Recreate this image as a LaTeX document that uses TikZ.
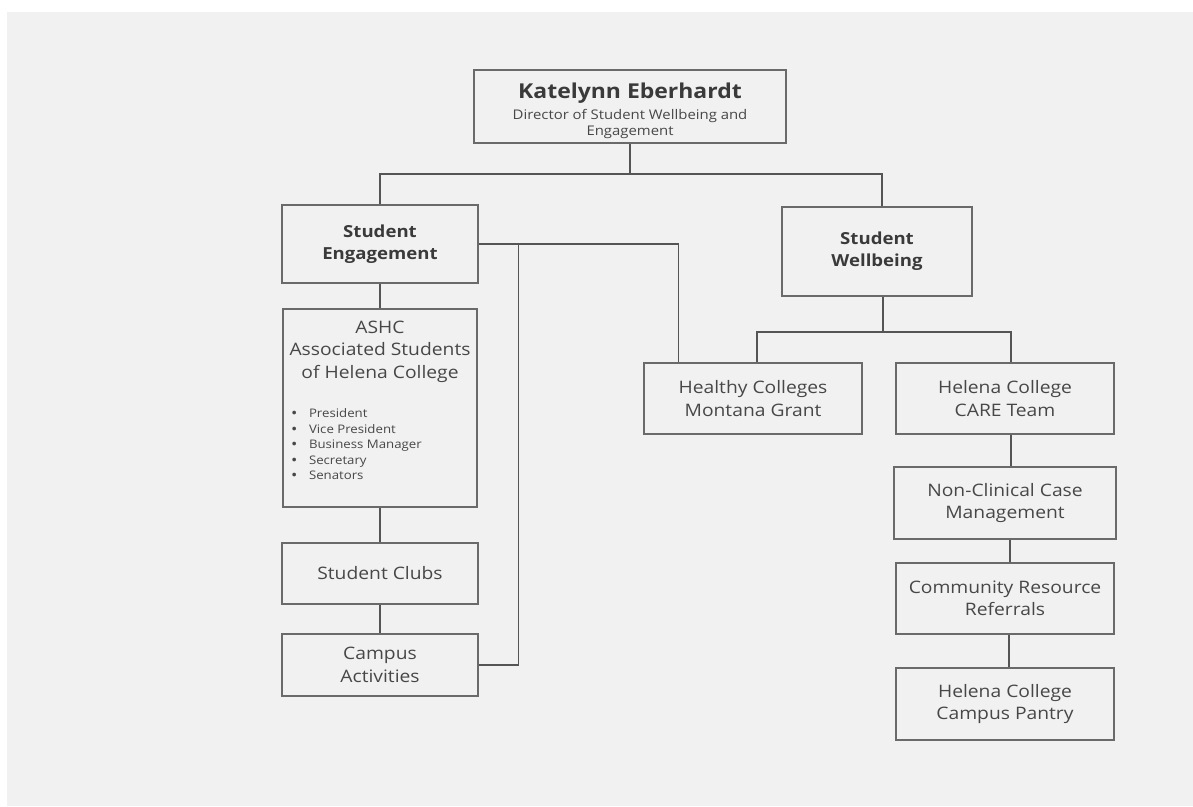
\documentclass[tikz,border=0pt]{standalone}
\usepackage{fontspec}
\setmainfont{Open Sans}[FakeStretch=1.12]
\usetikzlibrary{calc}
\definecolor{bg}{HTML}{F1F1F1}
\definecolor{edge}{HTML}{6A6A6A}
\definecolor{wirec}{HTML}{555555}
\definecolor{ink}{HTML}{474747}
\definecolor{inkb}{HTML}{3A3A3A}
\newcommand{\bitem}[1]{\hspace*{8pt}\makebox[18pt][l]{\raisebox{-0.6pt}{\fontsize{15}{15}\selectfont\textbullet}}#1}
\begin{document}
\begin{tikzpicture}[x=1pt,y=-1pt,
 box/.style={draw=edge, line width=1.4pt, fill=bg, inner sep=0pt, align=center, text=ink},
 wire/.style={draw=wirec, line width=1.3pt},
 body/.style={font=\fontsize{17.2}{22.5}\selectfont},
 head/.style={font=\bfseries\fontsize{16.6}{22}\selectfont, text=inkb}]
\useasboundingbox (0,0) rectangle (1193,806);
\fill[white] (0,0) rectangle (1193,806);
\fill[bg] (7,12) rectangle (1193,806);

\node[box, minimum width=312pt, minimum height=73pt] (top) at (630,106.5)
 {\parbox[c][73pt][t]{312pt}{\vspace*{13pt}\centering
  \bfseries\fontsize{20.5}{24}\selectfont\color{inkb}Katelynn Eberhardt\par
  \vspace{5pt}\mdseries\fontsize{13.3}{16}\selectfont\color{ink}Director of Student Wellbeing and\\Engagement\par}};

\node[box, head, minimum width=196pt, minimum height=78pt] (se) at (380,244) {Student\\Engagement};
\node[box, head, minimum width=190pt, minimum height=89pt] (sw) at (877,251.5) {Student\\Wellbeing};

\node[box, minimum width=194pt, minimum height=198pt] (ashc) at (380,408)
 {\parbox[c][198pt][t]{194pt}{\vspace*{12pt}\centering\fontsize{17.2}{22.5}\selectfont
  ASHC\\Associated Students\\of Helena College\par
  \vspace{24pt}\raggedright\fontsize{11.8}{15.5}\selectfont
  \bitem{President}\\
  \bitem{Vice President}\\
  \bitem{Business Manager}\\
  \bitem{Secretary}\\
  \bitem{Senators}\par}};

\node[box, body, minimum width=196pt, minimum height=61pt] (sc) at (380,573.5) {Student Clubs};
\node[box, body, minimum width=196pt, minimum height=62pt] (ca) at (380,665) {Campus\\Activities};

\node[box, body, minimum width=218pt, minimum height=71pt] (hc) at (753,398.5) {Healthy Colleges\\Montana Grant};
\node[box, body, minimum width=218pt, minimum height=71pt] (care) at (1005,398.5) {Helena College\\CARE Team};
\node[box, body, minimum width=222pt, minimum height=72pt] (nc) at (1005,503) {Non-Clinical Case\\Management};
\node[box, body, minimum width=218pt, minimum height=71pt] (crr) at (1005,598.5) {Community Resource\\Referrals};
\node[box, body, minimum width=218pt, minimum height=72pt] (cp) at (1005,704) {Helena College\\Campus Pantry};

\coordinate (j1) at (630,174);
\coordinate (j2) at (883,332);
\draw[wire] (top.south) -- (j1);
\draw[wire] (se.north) |- (j1) -| ([xshift=5pt]sw.north);
\draw[wire] (se.east) -| ([xshift=35pt]hc.north west);
\draw[wire] (ca.east) -| ($(se.east)+(40,0)$);
\draw[wire] (se.south) -- (ashc.north);
\draw[wire] (ashc.south) -- (sc.north);
\draw[wire] (sc.south) -- (ca.north);
\draw[wire] ([xshift=6pt]sw.south) -- (j2);
\draw[wire] ([xshift=4pt]hc.north) |- (j2) -| ([xshift=6pt]care.north);
\draw[wire] ([xshift=6pt]care.south) -- ([xshift=6pt]nc.north);
\draw[wire] ([xshift=5pt]nc.south) -- ([xshift=5pt]crr.north);
\draw[wire] ([xshift=4pt]crr.south) -- ([xshift=4pt]cp.north);
\end{tikzpicture}
\end{document}
